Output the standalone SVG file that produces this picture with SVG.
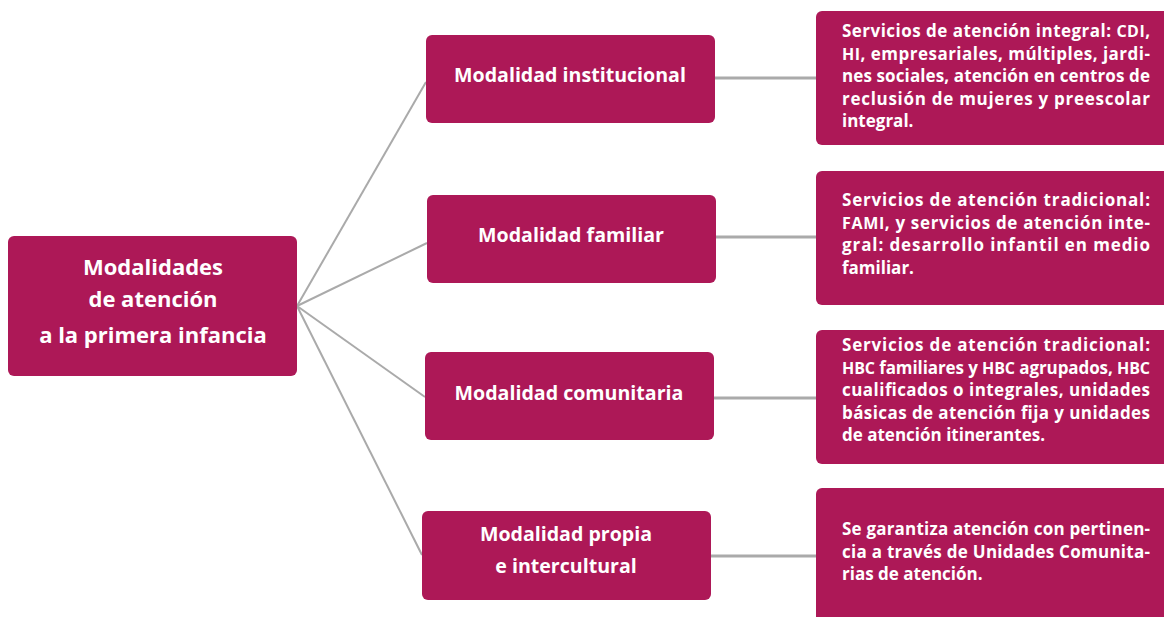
<svg xmlns="http://www.w3.org/2000/svg" width="1164" height="617" viewBox="0 0 1164 617">
<style>
.box{fill:#ad1857;}
.t{font-family:"Open Sans","Liberation Sans",sans-serif;font-weight:bold;fill:#fff;}
.c{font-size:22px;text-anchor:middle;}
.m{font-size:19.6px;text-anchor:middle;}
.d{font-size:17px;}
.sc{font-size:16px;}
.ln{stroke:#aaaaaa;stroke-width:2;fill:none;}
.hl{stroke:#aaaaaa;stroke-width:3;fill:none;}
</style>
<rect width="1164" height="617" fill="#fff"/>
<g id="connectors">
<line class="ln" x1="297" y1="306" x2="426" y2="82"/>
<line class="ln" x1="297" y1="306" x2="427" y2="243"/>
<line class="ln" x1="297" y1="306" x2="425" y2="397"/>
<line class="ln" x1="297" y1="306" x2="422" y2="555"/>
<line class="hl" x1="715" y1="78" x2="816" y2="78"/>
<line class="hl" x1="716" y1="237" x2="816" y2="237"/>
<line class="hl" x1="714" y1="398" x2="816" y2="398"/>
<line class="hl" x1="711" y1="556" x2="816" y2="556"/>
</g>
<g id="root">
<rect class="box" x="8" y="236" width="289" height="140" rx="6"/>
<text class="t c" x="153" y="275">Modalidades</text>
<text class="t c" x="153" y="307">de atención</text>
<text class="t c" x="153" y="343">a la primera infancia</text>
</g>
<g id="m1">
<rect class="box" x="426" y="35" width="289" height="88" rx="6"/>
<text class="t m" x="570" y="82">Modalidad institucional</text>
</g>
<g id="m2">
<rect class="box" x="427" y="195" width="289" height="88" rx="6"/>
<text class="t m" x="571" y="242">Modalidad familiar</text>
</g>
<g id="m3">
<rect class="box" x="425" y="352" width="289" height="88" rx="6"/>
<text class="t m" x="569" y="400">Modalidad comunitaria</text>
</g>
<g id="m4">
<rect class="box" x="422" y="511" width="289" height="89" rx="6"/>
<text class="t m" x="566" y="541">Modalidad propia</text>
<text class="t m" x="566" y="573">e intercultural</text>
</g>
<g id="d1">
<rect class="box" x="816" y="11" width="360" height="134" rx="6"/>
<text class="t d" x="842" y="37" textLength="308" lengthAdjust="spacing">Servicios de atención integral: <tspan class="sc">CDI</tspan>,</text>
<text class="t d" x="842" y="59.5" textLength="308" lengthAdjust="spacing"><tspan class="sc">HI</tspan>, empresariales, múltiples, jardi-</text>
<text class="t d" x="842" y="82" textLength="308" lengthAdjust="spacing">nes sociales, atención en centros de</text>
<text class="t d" x="842" y="104.5" textLength="308" lengthAdjust="spacing">reclusión de mujeres y preescolar</text>
<text class="t d" x="842" y="127">integral.</text>
</g>
<g id="d2">
<rect class="box" x="816" y="171" width="360" height="134" rx="6"/>
<text class="t d" x="842" y="206" textLength="308" lengthAdjust="spacing">Servicios de atención tradicional:</text>
<text class="t d" x="842" y="228.5" textLength="308" lengthAdjust="spacing"><tspan class="sc">FAMI</tspan>, y servicios de atención inte-</text>
<text class="t d" x="842" y="251" textLength="308" lengthAdjust="spacing">gral: desarrollo infantil en medio</text>
<text class="t d" x="842" y="273.5">familiar.</text>
</g>
<g id="d3">
<rect class="box" x="816" y="330" width="360" height="134" rx="6"/>
<text class="t d" x="842" y="351" textLength="308" lengthAdjust="spacing">Servicios de atención tradicional:</text>
<text class="t d" x="842" y="373.5" textLength="308" lengthAdjust="spacing"><tspan class="sc">HBC</tspan> familiares y <tspan class="sc">HBC</tspan> agrupados, <tspan class="sc">HBC</tspan></text>
<text class="t d" x="842" y="396" textLength="308" lengthAdjust="spacing">cualificados o integrales,  unidades</text>
<text class="t d" x="842" y="418.5" textLength="308" lengthAdjust="spacing">básicas de atención fija y unidades</text>
<text class="t d" x="842" y="441">de atención itinerantes.</text>
</g>
<g id="d4">
<rect class="box" x="816" y="488" width="360" height="140" rx="6"/>
<text class="t d" x="842" y="535" textLength="308" lengthAdjust="spacing">Se garantiza atención con pertinen-</text>
<text class="t d" x="842" y="557.5" textLength="308" lengthAdjust="spacing">cia a través de Unidades Comunita-</text>
<text class="t d" x="842" y="580">rias de atención.</text>
</g>
</svg>
